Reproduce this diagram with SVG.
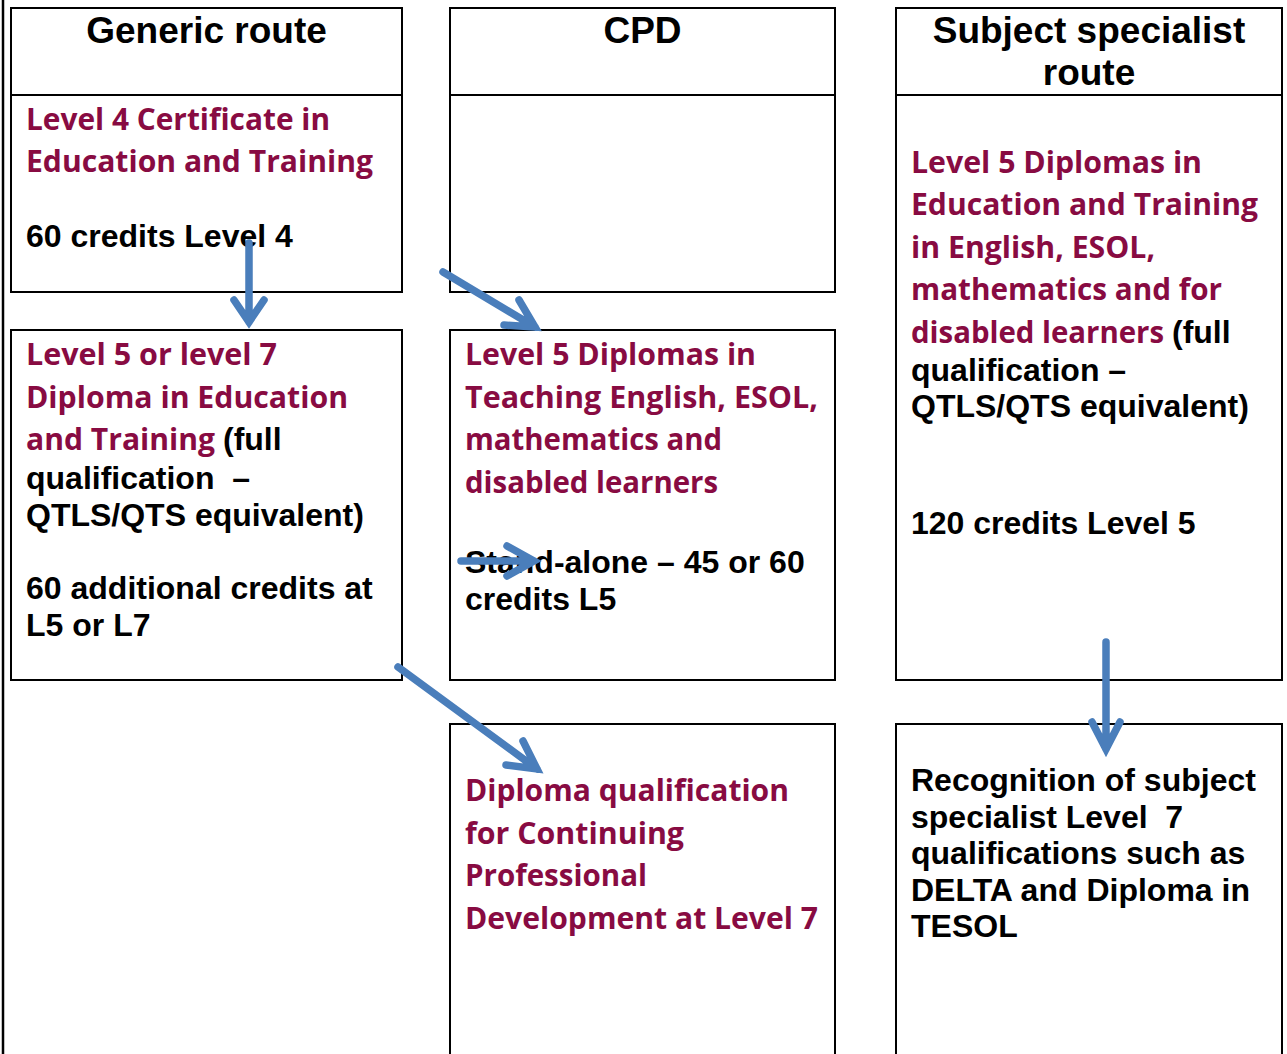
<svg xmlns="http://www.w3.org/2000/svg" width="1287" height="1054" viewBox="0 0 1287 1054">
<style>
.box{fill:#fff;stroke:#000;stroke-width:2}
.hd{font-family:"Liberation Sans",Arial,sans-serif;font-weight:bold;font-size:37px;fill:#000;text-anchor:middle}
.bk{font-family:"Liberation Sans",Arial,sans-serif;font-weight:bold;font-size:32px;fill:#000}
.mr{font-family:"Open Sans","Noto Sans",sans-serif;font-weight:bold;font-size:30px;fill:#880B42}
.arr{fill:none;stroke:#4A7EBB;stroke-width:7.5;stroke-linecap:round;stroke-linejoin:miter;stroke-miterlimit:10}
</style>
<rect width="1287" height="1054" fill="#fff"/>
<line x1="3" y1="0" x2="3" y2="1054" stroke="#000" stroke-width="2.5"/>

<g id="generic-header">
<rect class="box" x="11" y="8" width="391" height="284"/>
<line x1="11" y1="95" x2="402" y2="95" stroke="#000" stroke-width="2"/>
<text class="hd" x="206.5" y="43">Generic route</text>
<text class="mr" x="26" y="130" textLength="304" lengthAdjust="spacingAndGlyphs">Level 4 Certificate in</text>
<text class="mr" x="26" y="172" textLength="347" lengthAdjust="spacingAndGlyphs">Education and Training</text>
<text class="bk" x="26" y="247">60 credits Level 4</text>
</g>

<g id="cpd-header">
<rect class="box" x="450" y="8" width="385" height="284"/>
<line x1="450" y1="95" x2="835" y2="95" stroke="#000" stroke-width="2"/>
<text class="hd" x="642.5" y="43">CPD</text>
</g>

<g id="subject-header">
<rect class="box" x="896" y="8" width="386" height="672"/>
<line x1="896" y1="95" x2="1282" y2="95" stroke="#000" stroke-width="2"/>
<text class="hd" x="1089" y="43">Subject specialist</text>
<text class="hd" x="1089" y="85">route</text>
<text class="mr" x="911" y="173" textLength="291" lengthAdjust="spacingAndGlyphs">Level 5 Diplomas in</text>
<text class="mr" x="911" y="215" textLength="347" lengthAdjust="spacingAndGlyphs">Education and Training</text>
<text class="mr" x="911" y="258" textLength="244" lengthAdjust="spacingAndGlyphs">in English, ESOL,</text>
<text class="mr" x="911" y="300" textLength="311" lengthAdjust="spacingAndGlyphs">mathematics and for</text>
<text class="mr" x="911" y="343" textLength="253" lengthAdjust="spacingAndGlyphs">disabled learners</text>
<text class="bk" x="1172" y="343">(full</text>
<text class="bk" x="911" y="381">qualification –</text>
<text class="bk" x="911" y="417">QTLS/QTS equivalent)</text>
<text class="bk" x="911" y="534">120 credits Level 5</text>
</g>

<g id="generic-diploma">
<rect class="box" x="11" y="330" width="391" height="350"/>
<text class="mr" x="26" y="365" textLength="251" lengthAdjust="spacingAndGlyphs">Level 5 or level 7</text>
<text class="mr" x="26" y="408" textLength="322" lengthAdjust="spacingAndGlyphs">Diploma in Education</text>
<text class="mr" x="26" y="450" textLength="189" lengthAdjust="spacingAndGlyphs">and Training</text>
<text class="bk" x="223" y="450">(full</text>
<text class="bk" x="26" y="489" xml:space="preserve">qualification  –</text>
<text class="bk" x="26" y="526">QTLS/QTS equivalent)</text>
<text class="bk" x="26" y="599">60 additional credits at</text>
<text class="bk" x="26" y="636">L5 or L7</text>
</g>

<g id="cpd-level5">
<rect class="box" x="450" y="330" width="385" height="350"/>
<text class="mr" x="465" y="365" textLength="291" lengthAdjust="spacingAndGlyphs">Level 5 Diplomas in</text>
<text class="mr" x="465" y="408" textLength="353" lengthAdjust="spacingAndGlyphs">Teaching English, ESOL,</text>
<text class="mr" x="465" y="450" textLength="257" lengthAdjust="spacingAndGlyphs">mathematics and</text>
<text class="mr" x="465" y="493" textLength="253" lengthAdjust="spacingAndGlyphs">disabled learners</text>
<text class="bk" x="465" y="573">Stand-alone – 45 or 60</text>
<text class="bk" x="465" y="610">credits L5</text>
</g>

<g id="cpd-level7">
<rect class="box" x="450" y="724" width="385" height="340"/>
<text class="mr" x="465" y="801" textLength="324" lengthAdjust="spacingAndGlyphs">Diploma qualification</text>
<text class="mr" x="465" y="844" textLength="219" lengthAdjust="spacingAndGlyphs">for Continuing</text>
<text class="mr" x="465" y="886" textLength="182" lengthAdjust="spacingAndGlyphs">Professional</text>
<text class="mr" x="465" y="929" textLength="353" lengthAdjust="spacingAndGlyphs">Development at Level 7</text>
</g>

<g id="recognition">
<rect class="box" x="896" y="724" width="386" height="340"/>
<text class="bk" x="911" y="791">Recognition of subject</text>
<text class="bk" x="911" y="828" xml:space="preserve">specialist Level  7</text>
<text class="bk" x="911" y="864">qualifications such as</text>
<text class="bk" x="911" y="901">DELTA and Diploma in</text>
<text class="bk" x="911" y="937">TESOL</text>
</g>

<g id="connectors">
<path class="arr" d="M249,243 L249,322 M234,300 L249,322 L264,300"/>
<path class="arr" d="M443,272 L535,327 M519,300 L535,327 L504,325"/>
<path class="arr" d="M461,561 L534,561 M507,546 L534,561 L507,576"/>
<path class="arr" d="M398,667 L537,769 M523,741 L537,769 L506,765"/>
<path class="arr" d="M1106,642 L1106,749 M1092,722 L1106,749 L1120,722"/>
</g>
</svg>
